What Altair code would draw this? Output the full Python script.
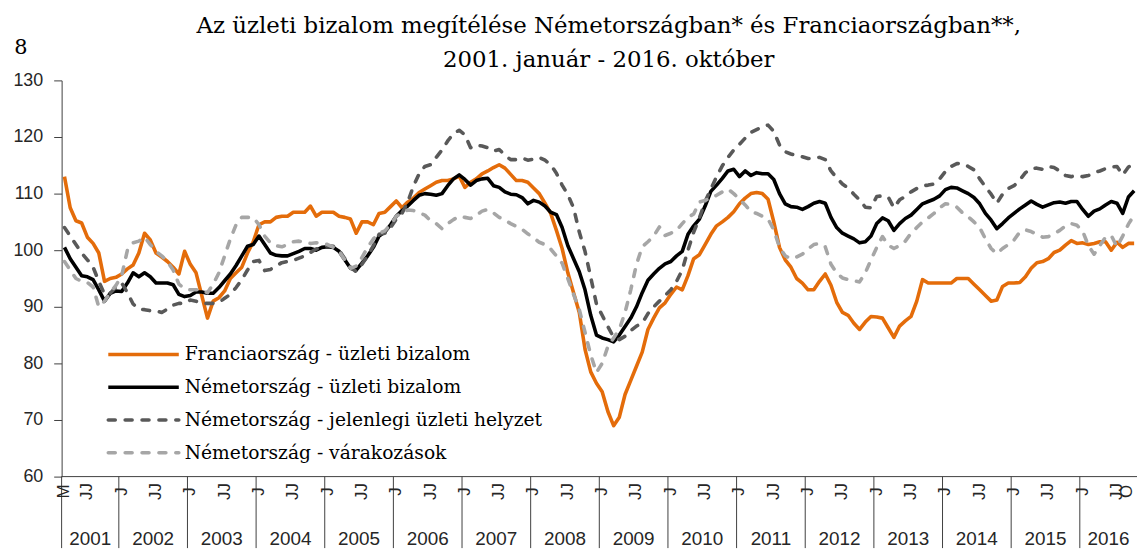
import altair as alt
import pandas as pd

# Months since January 2001 (first plotted month: March 2001 -> 2, last: October 2016 -> 189)
START_T = 2
END_T = 189

france = [
    113, 107.5, 105.2, 104.8, 102.3, 101.2, 99.5, 94.5, 95, 95.2, 95.8, 96.7, 97.4, 99.5, 103, 101.8,
    99.5, 98.8, 98, 97, 95.8, 99.8, 97.5, 96, 92, 88, 91, 91.6, 92.8, 95, 96, 97, 99.5, 101.5,
    104.5, 105, 105, 105.8, 106, 106, 106.7, 106.7, 106.7, 107.8, 106, 106.7, 106.7, 106.7, 106,
    105.8, 105.5, 103, 105, 105, 104.5, 106.5, 106.7, 107.7, 108.7,
    107.5, 108.5, 109.2, 110.2, 110.8, 111.4, 112, 112.3, 112.3, 112.6, 113.1, 111.1, 112, 112.6,
    113.5, 114, 114.6, 115.1, 114.5, 113.4, 112.3, 112.3, 112, 111, 110, 108.3, 106.5, 103.5, 100.3,
    96, 92.5, 89, 82.5, 78.5, 76.5, 75, 71.5, 69, 70.5, 74.5, 77, 79.5, 82, 86, 88, 89.8, 90.7,
    92.2, 93.5, 93, 95.5, 98.5, 99.2, 101, 102.8, 104.3, 105, 105.8, 106.8, 108.2, 109.2, 110,
    110.2, 110,
    109, 105, 100.5, 98.3, 97, 95, 94.2, 93, 93, 94.5, 95.8, 93.8, 90.8, 89, 88.5, 87.1, 86, 87.3,
    88.3, 88.2, 88, 86.3, 84.6, 86.6, 87.5, 88.3, 91, 94.8, 94.2, 94.2, 94.2, 94.2, 94.2, 95, 95,
    95, 94, 93, 92, 91, 91.2, 93.6, 94.2, 94.2, 94.3, 95.3, 96.8, 97.8, 98, 98.5, 99.6, 100, 100.9,
    101.7, 101.2, 101.3, 101, 101.2, 101.5, 101.5, 100, 101.4, 100.5, 101.2, 101.2,
]

de_climate = [
    100.5, 98.5, 97, 95.5, 95.3, 94.8, 93, 91, 92.4, 92.8, 92.7, 94.2, 96, 95.3, 96, 95.3, 94.2,
    94.2, 94.2, 93.9, 92.2, 91.8, 92, 92.6, 92.6, 92.4, 92.4, 93.4, 94.6, 95.8, 97.3, 99, 100.7,
    101, 102.5, 101, 99.5, 99.1, 99, 99, 99.4, 99.8, 100.3, 100.3, 100, 100.5, 100.6, 100.5, 99.8,
    98.3, 96.8, 96.5, 97.7, 99, 100.5, 102.5, 103.2, 104.5, 106,
    107, 107.8, 108.8, 109.7, 110, 109.9, 109.7, 110, 111.4, 112.6, 113.3, 112.5, 111.5, 112.3,
    112.6, 112.7, 111.4, 111.1, 110.3, 109.9, 109.8, 109.3, 108.2, 108.8, 108.5, 107.8, 106.7,
    106.3, 104, 100.8, 98.5, 96.2, 93, 88.5, 85, 84.5, 84.2, 83.8, 85, 86.5, 88, 90, 92.5, 94.7,
    95.8, 96.8, 97.6, 98, 99, 99.8, 102.8, 104.3, 105.5, 107.8, 110.4, 111.5, 112.7, 114, 114.3,
    113, 114, 113.2, 113.7, 113.5,
    113.5, 112.5, 110, 108.2, 107.7, 107.6, 107.2, 107.7, 108.3, 108.6, 108.3, 105.8, 104, 103,
    102.5, 102, 101.3, 101.5, 102.5, 104.7, 105.7, 105.2, 103.5, 104.7, 105.6, 106.2, 107.2, 108.2,
    108.6, 109, 109.6, 110.7, 111.1, 111, 110.5, 110, 109.3, 108.2, 106.5, 105.3, 103.8, 104.7,
    105.7, 106.5, 107.3, 108, 108.7, 108.1, 107.6, 108, 108.4, 108.5, 108.3, 108.6, 108.6, 107.2,
    106, 106.9, 107.3, 108, 108.6, 108.3, 106.5, 109.4, 110.5,
]

de_current = [
    104, 102.5, 101, 99.5, 98.3, 97, 94.5, 92.2, 92.4, 93.5, 94.2, 92.5, 90.5, 89.6, 89.5, 89.3,
    89.3, 89, 89.6, 90.3, 90.6, 90.6, 91.2, 91, 90.6, 90.6, 90.6, 90.8, 91.5, 92.2, 93.4, 94.8,
    96.5, 98, 98.2, 96.4, 96.6, 97.2, 97.8, 98, 98.2, 98.6, 99, 99.6, 100.2, 100.5, 100.8, 100.7,
    100, 98.5, 97, 96.2, 97.5, 99, 100.8, 102.8, 103, 104, 105.5,
    106.5, 108.5, 111.3, 113.5, 114.8, 115.1, 116.4, 117.7, 119.3, 120.6, 121.2, 120.4, 118.1,
    118.6, 118.4, 118.1, 117.5, 117.8, 116.8, 116, 116, 116.3, 115.9, 116.1, 116.4, 115.9, 115.1,
    113.6, 111.5, 109.8, 107.5, 103.2, 99.8, 95.2, 90.5, 88.5, 86.5, 84.6, 84.2, 84.8, 85.8, 86.6,
    87.1, 88.8, 90, 91, 92, 93, 94.5, 96.5, 100, 103.2, 105.7, 108.6, 110.8, 113, 114.9, 116.4,
    117.7, 118.7, 119.8, 120.8, 121.3, 121.8,
    122.1, 121, 118.6, 117.4, 117, 116.7, 116.5, 116.2, 116.2, 116.4, 116, 114, 112.8, 111.7, 111,
    109.9, 108.9, 107.6, 107.5, 109.5, 109.6, 109.4, 107.5, 108.9, 109.5, 110.3, 110.9, 111.4,
    111.5, 111.7, 112.6, 113.9, 114.8, 115.3, 115.3, 114.8, 114.2, 112.6, 111.2, 109.9, 108.3,
    109.9, 110.9, 111.4, 112.4, 113.7, 114.4, 114.5, 114.3, 114.8, 114.6, 114, 113.2, 113, 113.2,
    113, 113.2, 113.7, 114, 114.4, 114.7, 114.8, 113.3, 114.7, 115.2,
]

de_expect = [
    98, 96.5, 95, 94.5, 94.3, 93.5, 90, 91, 92.5, 93.8, 95.5, 100, 101.3, 101.6, 102.3, 101, 99.8,
    99, 98, 96.5, 94, 93.2, 93, 93, 93, 92.5, 94, 96, 99, 102, 104.5, 105.8, 105.8, 105.8, 104.5,
    102.5, 101.3, 100.8, 100.6, 101, 101.5, 101.6, 101.4, 101.2, 101.3, 101.3, 101, 100.5, 99.8,
    98.3, 96.8, 97.2, 98.7, 100.5, 102, 103, 103.4, 104.5, 106,
    106.6, 107.1, 107, 106.6, 106.2, 105.2, 104.7, 103.8, 104.7, 105.4, 106, 105.8, 105.6, 106.2,
    106.9, 107.2, 106.6, 105.8, 105.3, 104.7, 104.2, 103.7, 102.9, 102.2, 101.4, 101, 100.2, 99,
    97.7, 95, 92.2, 89.5, 85.5, 81.5, 78.4, 80, 83, 84.5, 86, 89, 93, 97.5, 100.6, 101.5, 102.5,
    104.1, 102.6, 103, 103.5, 104.7, 105.8, 106.4, 108.5, 108.8, 109.2, 109.7, 110.3, 110.8, 110,
    109, 108, 106.8, 106.5, 106,
    105.5, 103.6, 100.5, 99, 98.5, 98.8, 99.3, 100.2, 101, 101.2, 100.6, 97.5, 96, 95.1, 94.8, 94.6,
    94.4, 96, 98.3, 100.5, 102.4, 100.9, 100.3, 100.8, 101.6, 103, 104, 105, 105.7, 106.5, 107.5,
    108.2, 108.1, 107.6, 106.6, 105.9, 105, 104, 102, 100.3, 99.4, 100.3, 101, 101.8, 103.2, 103.6,
    103.3, 102.8, 102.3, 102.4, 102.9, 103.5, 104.3, 104.7, 104.4, 103.4, 100.8, 99.3, 100.8,
    102.3, 102.6, 100.6, 102.5, 104.6, 106.2,
]

series_names = [
    "Franciaország - üzleti bizalom",
    "Németország - üzleti bizalom",
    "Németország - jelenlegi üzleti helyzet",
    "Németország - várakozások",
]
series_values = [france, de_climate, de_current, de_expect]
series_colors = ["#E46C0A", "#000000", "#595959", "#A6A6A6"]
series_dash = [None, None, [7, 10], [7, 10]]

years = list(range(2001, 2017))
y_ticks = [60, 70, 80, 90, 100, 110, 120, 130]
title_lines = [
    "Az üzleti bizalom megítélése Németországban* és Franciaországban**,",
    "2001. január - 2016. október",
]
chart_number = "8"

months = list(range(START_T, END_T + 1))
for s in series_values:
    assert len(s) == len(months), len(s)

W, H = 1083, 399
xscale = alt.Scale(domain=[START_T - 0.5, END_T + 0.5], nice=False, zero=False)
yscale = alt.Scale(domain=[60, 130], nice=False, zero=False)

yaxis = alt.Axis(
    values=y_ticks, title=None, grid=False, tickSize=8, labelPadding=11,
    labelFont="Liberation Sans", labelFontSize=18, labelColor="#262626",
    domainColor="#404040", tickColor="#404040", domainWidth=1, tickWidth=1,
)

def yenc(field="v:Q"):
    return alt.Y(field, scale=yscale, axis=yaxis)

layers = []
for i, (name, vals) in enumerate(zip(series_names, series_values)):
    df = pd.DataFrame({"t": months, "v": vals})
    kw = dict(color=series_colors[i], strokeWidth=3.6, strokeJoin="round")
    if series_dash[i]:
        kw.update(strokeDash=series_dash[i], strokeCap="round")
    layers.append(
        alt.Chart(df).mark_line(**kw).encode(
            x=alt.X("t:Q", scale=xscale, axis=None),
            y=yenc(),
        )
    )

# bottom axis line at 60
base_line = alt.Chart(pd.DataFrame({"v": [60]})).mark_rule(color="#404040", strokeWidth=1).encode(
    y=yenc(), x=alt.value(0), x2=alt.value(W)
)

# year separators (including extension of the vertical axis)
sep_t = [START_T - 0.5] + [12 * (y - 2001) - 0.5 for y in years[1:]]
seps = alt.Chart(pd.DataFrame({"t": sep_t})).mark_rule(color="#404040", strokeWidth=1).encode(
    x=alt.X("t:Q", scale=xscale, axis=None), y=alt.value(H), y2=alt.value(471)
)

# year labels
year_mid = []
for y in years:
    lo = max(12 * (y - 2001) - 0.5, START_T - 0.5)
    hi = min(12 * (y - 2001) + 11.5, END_T + 0.5)
    year_mid.append((lo + hi) / 2)
year_text = alt.Chart(pd.DataFrame({"t": year_mid, "lab": [str(y) for y in years]})).mark_text(
    font="Liberation Sans", fontSize=19, color="#262626", baseline="middle", align="center"
).encode(x=alt.X("t:Q", scale=xscale, axis=None), y=alt.value(462), text="lab:N")

# rotated month marks
mt, ml = [START_T], ["M"]
for y in years:
    for m, lab in [(0, "J"), (6, "JJ")]:
        t = 12 * (y - 2001) + m
        if START_T < t <= END_T:
            mt.append(t)
            ml.append(lab)
mt.append(END_T - 1.3)
ml.append("O")
month_text = alt.Chart(pd.DataFrame({"t": mt, "lab": ml})).mark_text(
    font="Liberation Sans", fontSize=17, color="#262626", angle=270, baseline="middle", align="center"
).encode(x=alt.X("t:Q", scale=xscale, axis=None), y=alt.value(414), text="lab:N")

# title
title1 = alt.Chart(pd.DataFrame({"s": [title_lines[0]]})).mark_text(
    font="DejaVu Serif", fontSize=23, color="#000000", baseline="alphabetic", align="center"
).encode(x=alt.value(551), y=alt.value(-48), text="s:N")
title2 = alt.Chart(pd.DataFrame({"s": [title_lines[1]]})).mark_text(
    font="DejaVu Serif", fontSize=23, color="#000000", baseline="alphabetic", align="center"
).encode(x=alt.value(551), y=alt.value(-13), text="s:N")
num = alt.Chart(pd.DataFrame({"s": [chart_number]})).mark_text(
    font="DejaVu Serif", fontSize=21, color="#000000", baseline="middle", align="center"
).encode(x=alt.value(-41), y=alt.value(-33), text="s:N")

# legend
leg_layers = []
for i, name in enumerate(series_names):
    yy = 276 + 33 * i
    kw = dict(color=series_colors[i], strokeWidth=3.6)
    if series_dash[i]:
        kw.update(strokeDash=series_dash[i], strokeCap="round")
    leg_layers.append(
        alt.Chart(pd.DataFrame({"s": [name]})).mark_rule(**kw).encode(
            x=alt.value(47), x2=alt.value(118), y=alt.value(yy)
        )
    )
    leg_layers.append(
        alt.Chart(pd.DataFrame({"s": [name]})).mark_text(
            font="DejaVu Serif", fontSize=18.8, color="#000000", baseline="middle", align="left"
        ).encode(x=alt.value(124), y=alt.value(yy), text="s:N")
    )

chart = alt.layer(
    base_line, seps, *layers, year_text, month_text, title1, title2, num, *leg_layers
).properties(
    width=W, height=H,
    autosize=alt.AutoSizeParams(type="none"),
    padding={"left": 54, "top": 71, "right": 0, "bottom": 72},
    background="white",
).configure_view(stroke=None)

chart.save("out.html", embed_options={"renderer": "svg", "actions": False})
